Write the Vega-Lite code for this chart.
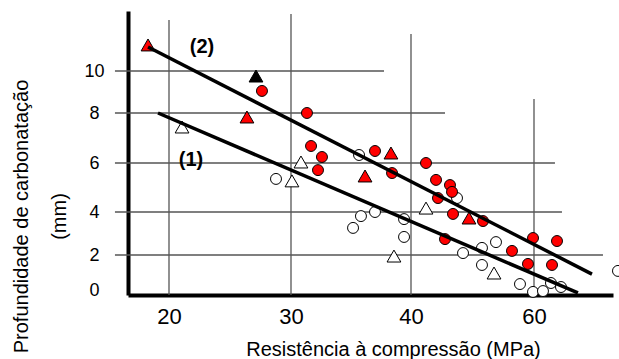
{
  "$schema": "https://vega.github.io/schema/vega-lite/v6.json",
  "width": 485,
  "height": 284,
  "autosize": {"type": "none"},
  "padding": {"left": 128, "top": 11, "right": 6, "bottom": 64},
  "background": "white",
  "config": {
    "view": {"stroke": null},
    "font": "Liberation Sans",
    "axis": {"labelFont": "Liberation Sans", "titleFont": "Liberation Sans", "labelColor": "black", "titleColor": "black"}
  },
  "datasets": {
    "grid": [
      {"x": 15.57, "x2": 37.75, "y": 10, "y2": 10},
      {"x": 15.57, "x2": 45.53, "y": 8, "y2": 8},
      {"x": 15.57, "x2": 63.41, "y": 6, "y2": 6},
      {"x": 15.57, "x2": 64.55, "y": 4, "y2": 4},
      {"x": 15.57, "x2": 71.22, "y": 2, "y2": 2},
      {"x": 20, "x2": 20, "y": 12.43, "y2": -0.2857},
      {"x": 30, "x2": 30, "y": 12.71, "y2": -0.2857},
      {"x": 40, "x2": 40, "y": 11.76, "y2": -0.2857},
      {"x": 60, "x2": 60, "y": 8.67, "y2": -0.2857}
    ],
    "points": [
      {"tipo": "círculo", "grupo": "branco", "x": 28.77, "y": 5.35},
      {"tipo": "círculo", "grupo": "branco", "x": 35.67, "y": 6.32},
      {"tipo": "círculo", "grupo": "branco", "x": 35.83, "y": 3.81},
      {"tipo": "círculo", "grupo": "branco", "x": 37.0, "y": 4.0},
      {"tipo": "círculo", "grupo": "branco", "x": 35.17, "y": 3.26},
      {"tipo": "círculo", "grupo": "branco", "x": 39.42, "y": 3.67},
      {"tipo": "círculo", "grupo": "branco", "x": 39.42, "y": 2.84},
      {"tipo": "círculo", "grupo": "branco", "x": 47.48, "y": 4.57},
      {"tipo": "círculo", "grupo": "branco", "x": 48.46, "y": 2.09},
      {"tipo": "círculo", "grupo": "branco", "x": 51.54, "y": 2.33},
      {"tipo": "círculo", "grupo": "branco", "x": 53.82, "y": 2.6},
      {"tipo": "círculo", "grupo": "branco", "x": 51.54, "y": 1.43},
      {"tipo": "círculo", "grupo": "branco", "x": 57.72, "y": 0.34},
      {"tipo": "círculo", "grupo": "branco", "x": 59.84, "y": -0.11},
      {"tipo": "círculo", "grupo": "branco", "x": 61.46, "y": -0.06},
      {"tipo": "círculo", "grupo": "branco", "x": 62.76, "y": 0.4},
      {"tipo": "círculo", "grupo": "branco", "x": 64.39, "y": 0.17},
      {"tipo": "círculo", "grupo": "branco", "x": 73.66, "y": 1.09},
      {"tipo": "triângulo", "grupo": "branco", "x": 21.07, "y": 7.44},
      {"tipo": "triângulo", "grupo": "branco", "x": 30.83, "y": 6.04},
      {"tipo": "triângulo", "grupo": "branco", "x": 30.08, "y": 5.27},
      {"tipo": "triângulo", "grupo": "branco", "x": 42.44, "y": 4.16},
      {"tipo": "triângulo", "grupo": "branco", "x": 38.58, "y": 1.94},
      {"tipo": "triângulo", "grupo": "branco", "x": 53.5, "y": 0.97},
      {"tipo": "triângulo", "grupo": "preto", "x": 27.13, "y": 9.76},
      {"tipo": "triângulo", "grupo": "vermelho", "x": 18.28, "y": 11.24},
      {"tipo": "triângulo", "grupo": "vermelho", "x": 26.39, "y": 7.84},
      {"tipo": "triângulo", "grupo": "vermelho", "x": 36.17, "y": 5.47},
      {"tipo": "triângulo", "grupo": "vermelho", "x": 38.33, "y": 6.4},
      {"tipo": "triângulo", "grupo": "vermelho", "x": 49.43, "y": 3.72},
      {"tipo": "círculo", "grupo": "vermelho", "x": 27.62, "y": 9.05},
      {"tipo": "círculo", "grupo": "vermelho", "x": 31.33, "y": 8.0},
      {"tipo": "círculo", "grupo": "vermelho", "x": 31.67, "y": 6.68},
      {"tipo": "círculo", "grupo": "vermelho", "x": 32.58, "y": 6.24},
      {"tipo": "círculo", "grupo": "vermelho", "x": 32.25, "y": 5.71},
      {"tipo": "círculo", "grupo": "vermelho", "x": 37.0, "y": 6.48},
      {"tipo": "círculo", "grupo": "vermelho", "x": 38.42, "y": 5.59},
      {"tipo": "círculo", "grupo": "vermelho", "x": 42.44, "y": 6.0},
      {"tipo": "círculo", "grupo": "vermelho", "x": 44.07, "y": 5.31},
      {"tipo": "círculo", "grupo": "vermelho", "x": 46.34, "y": 5.1},
      {"tipo": "círculo", "grupo": "vermelho", "x": 46.67, "y": 4.82},
      {"tipo": "círculo", "grupo": "vermelho", "x": 44.39, "y": 4.57},
      {"tipo": "círculo", "grupo": "vermelho", "x": 46.83, "y": 3.91},
      {"tipo": "círculo", "grupo": "vermelho", "x": 51.71, "y": 3.58},
      {"tipo": "círculo", "grupo": "vermelho", "x": 45.53, "y": 2.74},
      {"tipo": "círculo", "grupo": "vermelho", "x": 56.42, "y": 2.19},
      {"tipo": "círculo", "grupo": "vermelho", "x": 59.84, "y": 2.79},
      {"tipo": "círculo", "grupo": "vermelho", "x": 63.74, "y": 2.65},
      {"tipo": "círculo", "grupo": "vermelho", "x": 59.02, "y": 1.49},
      {"tipo": "círculo", "grupo": "vermelho", "x": 62.93, "y": 1.43}
    ],
    "lines": [
      {"reta": "(1)", "x": 19.1, "y": 8.0},
      {"reta": "(1)", "x": 67.15, "y": -0.17},
      {"reta": "(2)", "x": 18.28, "y": 11.14},
      {"reta": "(2)", "x": 69.43, "y": 0.91}
    ],
    "labels": [
      {"rotulo": "(2)", "x": 22.7, "y": 11.14},
      {"rotulo": "(1)", "x": 21.8, "y": 6.12}
    ]
  },
  "layer": [
    {
      "data": {"name": "grid"},
      "mark": {"type": "rule", "color": "#555555", "strokeWidth": 1.3},
      "encoding": {
        "x": {
          "field": "x", "type": "quantitative",
          "scale": {"domain": [16.639, 20, 30, 40, 60, 72.85], "range": [0, 41, 163, 283, 406, 485], "nice": false, "zero": false},
          "axis": {
            "values": [20, 30, 40, 60], "grid": false, "ticks": false, "tickSize": 0,
            "domainColor": "black", "domainWidth": 4,
            "labelFontSize": 22, "labelPadding": 11, "labelFlush": false, "labelOverlap": false,
            "encode": {"labels": {"update": {"dx": {"signal": "datum.value === 30 ? 11 : datum.value === 40 ? -9 : datum.value === 60 ? 8 : 0"}}}},
            "title": "Resistência à compressão (MPa)",
            "titleFontSize": 20, "titleFontWeight": "normal",
            "titleX": 265, "titleY": 60, "titleBaseline": "alphabetic", "titleAlign": "center", "titleAnchor": null
          }
        },
        "x2": {"field": "x2"},
        "y": {
          "field": "y", "type": "quantitative",
          "scale": {"domain": [-0.2857, 0, 2, 4, 6, 8, 10, 12.857], "range": [284, 279, 244, 201, 152, 102, 60, 0], "nice": false, "zero": false},
          "axis": {
            "values": [0, 2, 4, 6, 8, 10], "grid": false, "ticks": false, "tickSize": 0,
            "domainColor": "black", "domainWidth": 4,
            "labelFontSize": 18, "labelPadding": 34, "labelAlign": "center", "labelBaseline": "middle",
            "labelFlush": false, "labelOverlap": false,
            "title": ["Profundidade de carbonatação", "(mm)"],
            "titleFontSize": 20, "titleFontWeight": "normal", "titleLineHeight": 38,
            "titleAngle": 270, "titleX": -107, "titleY": 205, "titleBaseline": "middle", "titleAlign": "center", "titleAnchor": null
          }
        },
        "y2": {"field": "y2"}
      }
    },
    {
      "data": {"name": "points"},
      "mark": {"type": "point", "filled": true, "stroke": "black", "strokeWidth": 1, "opacity": 1},
      "encoding": {
        "x": {"field": "x", "type": "quantitative"},
        "y": {"field": "y", "type": "quantitative"},
        "shape": {"field": "tipo", "type": "nominal", "scale": {"domain": ["círculo", "triângulo"], "range": ["circle", "triangle-up"]}, "legend": null},
        "size": {"field": "tipo", "type": "nominal", "scale": {"domain": ["círculo", "triângulo"], "range": [120, 190]}, "legend": null},
        "fill": {"field": "grupo", "type": "nominal", "scale": {"domain": ["vermelho", "branco", "preto"], "range": ["#ff0000", "#ffffff", "#000000"]}, "legend": null}
      }
    },
    {
      "data": {"name": "lines"},
      "mark": {"type": "line", "color": "black", "strokeWidth": 3.5},
      "encoding": {
        "x": {"field": "x", "type": "quantitative"},
        "y": {"field": "y", "type": "quantitative"},
        "detail": {"field": "reta", "type": "nominal"}
      }
    },
    {
      "data": {"name": "labels"},
      "mark": {"type": "text", "font": "Liberation Sans", "fontSize": 20, "fontWeight": "bold", "align": "center", "baseline": "middle", "color": "black"},
      "encoding": {
        "x": {"field": "x", "type": "quantitative"},
        "y": {"field": "y", "type": "quantitative"},
        "text": {"field": "rotulo", "type": "nominal"}
      }
    }
  ]
}
